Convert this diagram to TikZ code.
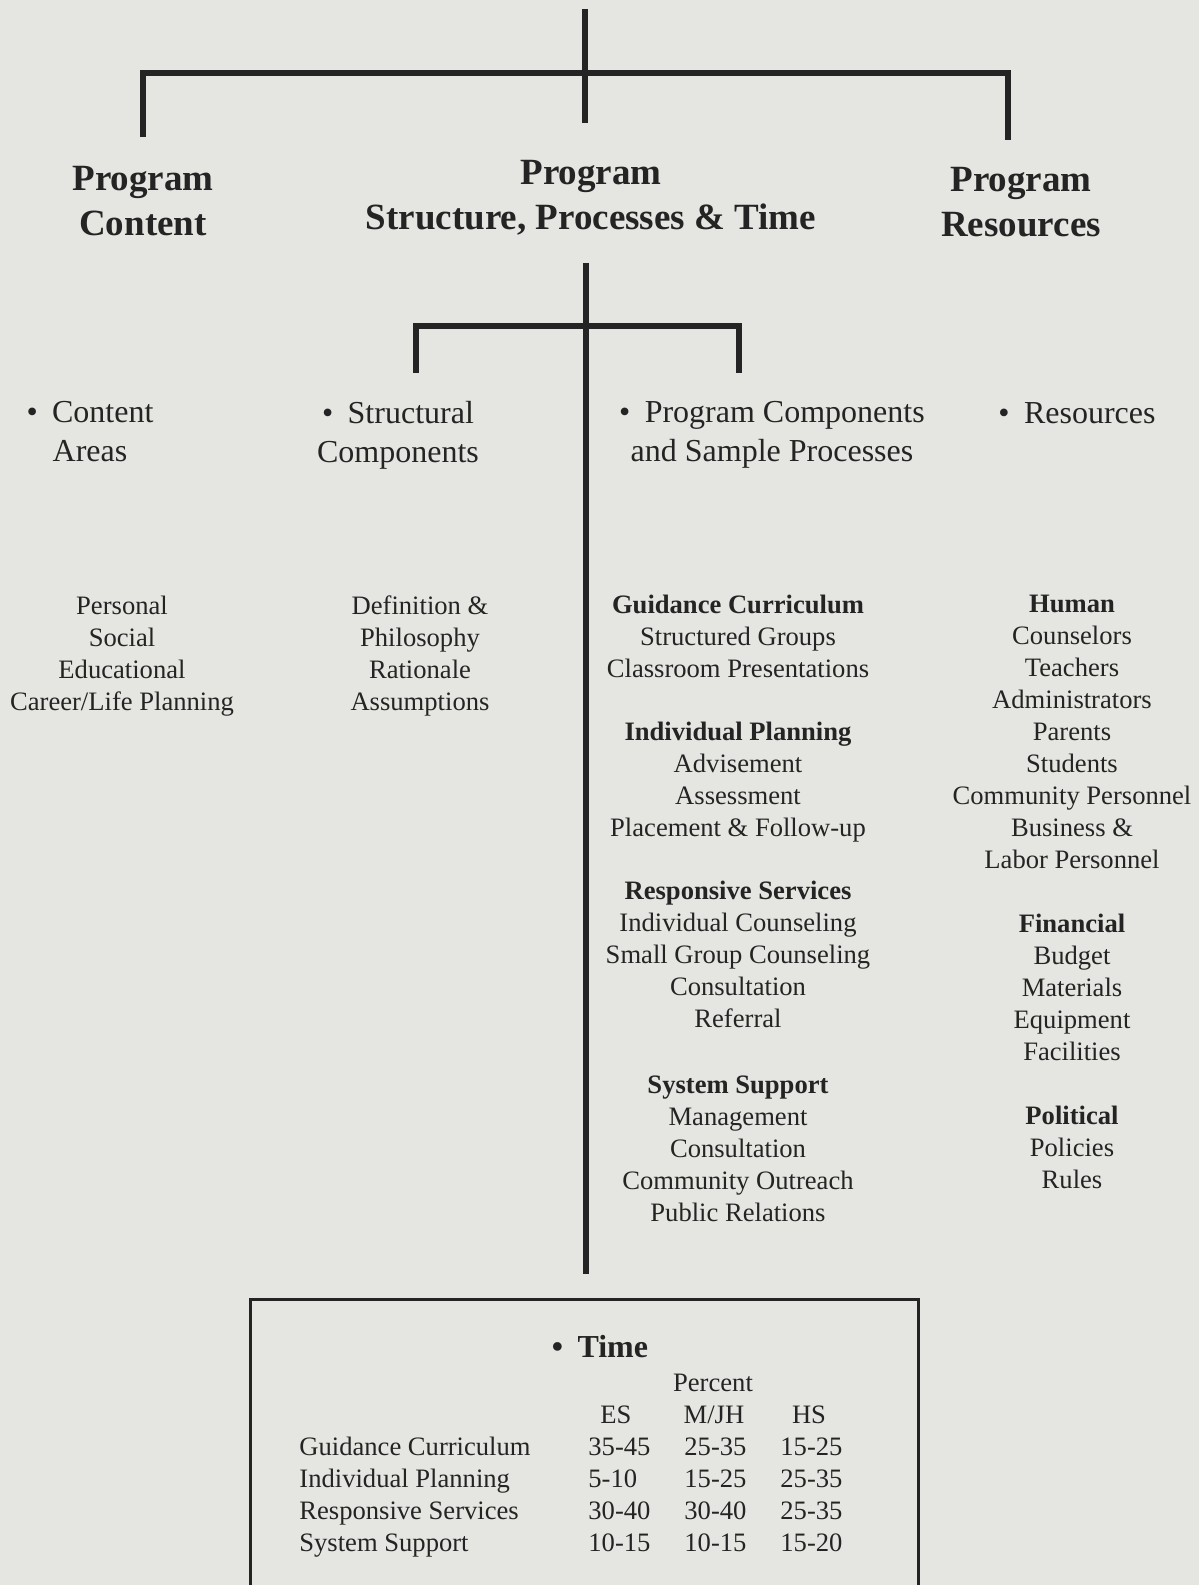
\documentclass[tikz,border=0pt]{standalone}
\usepackage{fontspec}
\setmainfont{Liberation Serif}
\usepackage{xcolor}
\usepackage{tikz}

\definecolor{paper}{RGB}{229,230,225}
\definecolor{ink}{RGB}{36,36,36}
\newcommand{\hdrfont}{\fontsize{18.5}{22.5}\selectfont\bfseries}
\newcommand{\subhfont}{\fontsize{16}{19.5}\selectfont}
\newcommand{\lstfont}{\fontsize{13.3}{16}\selectfont}
\newcommand{\bul}{\textbullet\hspace{0.45em}}

\begin{document}
\begin{tikzpicture}[
    x=0.5pt, y=-0.5pt,
    every node/.style={text=ink, inner sep=0pt},
    % nodes are placed near the baseline of their first line
    header/.style={font=\hdrfont, align=center, anchor=north, yshift=15.75pt, execute at begin node=\strut},
    subhead/.style={font=\subhfont, align=center, anchor=north, yshift=13.65pt, execute at begin node=\strut},
    listbox/.style={font=\lstfont, align=center, anchor=north, yshift=11.2pt, execute at begin node=\strut},
    tablebox/.style={font=\lstfont, anchor=base west},
    tree/.style={draw=ink, line width=2.6pt},
    boxline/.style={draw=ink, line width=1.5pt}
  ]
    \fill[paper] (0,0) rectangle (1199,1585);
    \useasboundingbox (0,0) rectangle (1199,1585);

    % top level
    \node[header] (content) at (143,197) {Program\\Content};
    \node[header] (structure) at (591,191) {Program\\Structure, Processes \& Time};
    \node[header] (resources) at (1021,198) {Program\\Resources};

    \coordinate (root) at (585,9);
    \coordinate (hub) at (585,73);
    \coordinate (stem) at (585,123);
    \coordinate (contentdrop) at (143,137);
    \coordinate (resourcesdrop) at (1008,140);
    \draw[tree] (root) -- (stem);
    \draw[tree] (contentdrop) |- (hub) -| (resourcesdrop);

    % second level
    \coordinate (stemtop) at (586,263);
    \coordinate (stembottom) at (586,1274);
    \coordinate (subhub) at (586,326);
    \coordinate (structdrop) at (416,373);
    \coordinate (procdrop) at (739,373);
    \draw[tree] (stemtop) -- (stembottom);
    \draw[tree] (structdrop) |- (subhub) -| (procdrop);

    \node[subhead] (areas) at (90,428) {\bul Content\\Areas};
    \node[subhead] (components) at (398,428) {\bul Structural\\Components};
    \node[subhead] (processes) at (772,428) {\bul Program Components\\and Sample Processes};
    \node[subhead] (res) at (1077,423) {\bul Resources};

    % lists
    \node[listbox] (arealist) at (122,618) {Personal\\Social\\Educational\\Career/Life Planning};
    \node[listbox] (structlist) at (420,618) {Definition \&\\Philosophy\\Rationale\\Assumptions};

    \node[listbox] (guidance) at (738,617) {\textbf{Guidance Curriculum}\\Structured Groups\\Classroom Presentations};
    \node[listbox] (planning) at (738,744) {\textbf{Individual Planning}\\Advisement\\Assessment\\Placement \& Follow-up};
    \node[listbox] (responsive) at (738,903) {\textbf{Responsive Services}\\Individual Counseling\\Small Group Counseling\\Consultation\\Referral};
    \node[listbox] (support) at (738,1098) {\textbf{System Support}\\Management\\Consultation\\Community Outreach\\Public Relations};

    \node[listbox] (human) at (1072,617) {\textbf{Human}\\Counselors\\Teachers\\Administrators\\Parents\\Students\\Community Personnel\\Business \&\\Labor Personnel};
    \node[listbox] (financial) at (1072,936) {\textbf{Financial}\\Budget\\Materials\\Equipment\\Facilities};
    \node[listbox] (political) at (1072,1128) {\textbf{Political}\\Policies\\Rules};

    % time box
    \coordinate (timeleft) at (250,1585);
    \coordinate (timetop) at (918,1299);
    \coordinate (timeright) at (918,1585);
    \draw[boxline] (timeleft) |- (timetop) -- (timeright);

    \node[subhead, font=\subhfont\bfseries] (time) at (600,1357) {\bul Time};
    \node[listbox] (percent) at (713,1391) {Percent};
    \node[listbox] (es) at (616,1423) {ES};
    \node[listbox] (mjh) at (714,1423) {M/JH};
    \node[listbox] (hs) at (809,1423) {HS};
    \node[tablebox] (timetable) at (299,1455) {\begin{tabular}[t]{@{}p{144.5pt}@{}p{48pt}@{}p{48pt}@{}l@{}}
      Guidance Curriculum & 35-45 & 25-35 & 15-25\\
      Individual Planning & 5-10 & 15-25 & 25-35\\
      Responsive Services & 30-40 & 30-40 & 25-35\\
      System Support & 10-15 & 10-15 & 15-20
    \end{tabular}};
  \end{tikzpicture}
\end{document}
